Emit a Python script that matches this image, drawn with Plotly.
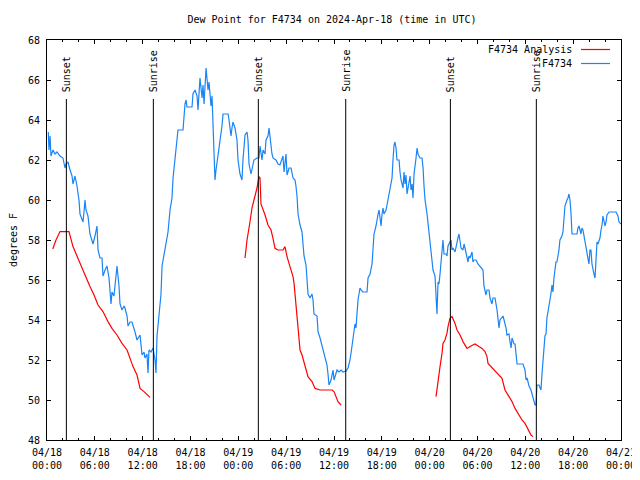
import plotly.graph_objects as go

TITLE = "Dew Point for F4734 on 2024-Apr-18 (time in UTC)"
Y_LABEL = "degrees F"
SERIES_NAMES = ["F4734 Analysis", "F4734"]

# hours since 2024-04-18 00:00 UTC
X_TICK_HOURS = [0, 6, 12, 18, 24, 30, 36, 42, 48, 54, 60, 66, 72]
X_TICK_LABELS = ["04/18<br>00:00", "04/18<br>06:00", "04/18<br>12:00", "04/18<br>18:00",
                 "04/19<br>00:00", "04/19<br>06:00", "04/19<br>12:00", "04/19<br>18:00",
                 "04/20<br>00:00", "04/20<br>06:00", "04/20<br>12:00", "04/20<br>18:00",
                 "04/21<br>00:00"]
Y_TICKS = [48, 50, 52, 54, 56, 58, 60, 62, 64, 66, 68]

SUN_EVENTS = ["Sunset", "Sunrise", "Sunset", "Sunrise", "Sunset", "Sunrise"]
SUN_HOURS = [2.43, 13.34, 26.51, 37.47, 50.6, 61.38]

# F4734 observations (hour, dew point F)
OBS = [
    (0.16, 63.4), (0.25, 62.5), (0.38, 63.2), (0.5, 62.2), (0.75, 62.5), (1.0, 62.3), (1.25, 62.4),
    (1.63, 62.2), (2.0, 62.1), (2.26, 61.6), (2.38, 61.8), (2.63, 61.9), (2.89, 61.5), (3.14, 61.2),
    (3.26, 60.8), (3.51, 61.2), (3.76, 60.7), (4.01, 60.0), (4.14, 59.3), (4.52, 58.9), (4.64, 59.4),
    (4.77, 60.0), (4.89, 59.5), (5.14, 59.2), (5.39, 58.3), (5.64, 58.0), (5.77, 57.8), (6.02, 58.2),
    (6.27, 58.7), (6.4, 57.5), (6.65, 57.1), (6.9, 57.1), (7.02, 56.2), (7.28, 56.5), (7.53, 56.7),
    (7.65, 56.4), (7.78, 56.1), (8.03, 54.8), (8.15, 55.4), (8.4, 55.2), (8.66, 56.4), (8.78, 56.7),
    (9.03, 55.7), (9.16, 54.8), (9.41, 54.5), (9.66, 54.7), (9.78, 54.6), (10.04, 54.2), (10.16, 53.7),
    (10.41, 53.9), (10.66, 53.9), (10.91, 53.6), (11.04, 53.4), (11.29, 53.0), (11.67, 53.25),
    (11.92, 52.25), (12.17, 52.4), (12.29, 52.1), (12.54, 52.3), (12.67, 51.35), (12.79, 52.5),
    (13.05, 52.4), (13.3, 52.6), (13.55, 52.0), (13.67, 51.35), (13.8, 53.2), (14.05, 54.3),
    (14.3, 55.3), (14.43, 56.7), (14.8, 57.5), (15.05, 58.2), (15.18, 58.4), (15.43, 59.5),
    (15.68, 60.1), (15.81, 61.1), (16.06, 62.1), (16.31, 62.8), (16.43, 63.5), (16.68, 63.5),
    (17.06, 63.5), (17.31, 64.8), (17.44, 65.0), (17.56, 64.65), (18.19, 64.65), (18.31, 65.3),
    (18.57, 65.5), (18.82, 65.2), (18.94, 64.5), (19.19, 66.1), (19.45, 65.1), (19.57, 65.75),
    (19.7, 64.8), (19.95, 66.6), (20.07, 66.0), (20.2, 65.5), (20.32, 65.9), (20.57, 64.7),
    (20.7, 65.2), (20.82, 63.5), (20.95, 61.5), (21.07, 61.0), (21.2, 61.5), (21.45, 62.2),
    (21.7, 63.0), (21.95, 63.7), (22.08, 64.3), (22.71, 64.3), (22.83, 64.0), (23.08, 63.2),
    (23.2, 63.6), (23.33, 63.9), (23.58, 63.6), (23.83, 63.0), (23.96, 62.0), (24.21, 61.3),
    (24.46, 61.0), (24.58, 62.0), (24.84, 63.25), (25.09, 63.4), (25.21, 63.0), (25.34, 61.8),
    (25.59, 61.3), (25.71, 61.6), (25.96, 62.0), (26.34, 62.1), (26.59, 62.1), (26.72, 62.7),
    (26.97, 62.0), (27.1, 62.5), (27.35, 62.3), (27.47, 63.0), (27.72, 63.2), (27.85, 63.6),
    (27.97, 63.1), (28.22, 62.3), (28.35, 62.1), (28.72, 62.0), (28.97, 61.8), (29.22, 61.75),
    (29.6, 62.2), (29.73, 61.4), (29.98, 62.3), (30.11, 61.25), (30.36, 61.6), (30.61, 61.6),
    (30.86, 61.1), (31.11, 61.0), (31.23, 60.7), (31.36, 60.2), (31.49, 59.3), (31.61, 58.9),
    (31.74, 58.75), (31.99, 58.4), (32.11, 57.7), (32.24, 57.2), (32.49, 56.75), (32.61, 56.2),
    (32.74, 55.3), (32.99, 55.1), (33.24, 55.3), (33.37, 55.0), (33.49, 54.3), (33.87, 54.2),
    (34.0, 53.4), (34.25, 53.1), (34.5, 52.7), (34.62, 52.5), (34.87, 52.25), (35.12, 51.75),
    (35.25, 51.3), (35.37, 50.75), (35.63, 51.0), (35.88, 51.5), (36.0, 51.0), (36.25, 51.4),
    (36.38, 51.5), (36.63, 51.4), (36.88, 51.5), (37.13, 51.4), (37.51, 51.45), (37.76, 51.6),
    (38.01, 52.0), (38.26, 52.7), (38.38, 53.1), (38.63, 53.8), (38.76, 53.6), (38.89, 54.2),
    (39.01, 55.0), (39.26, 55.6), (39.39, 55.5), (39.64, 55.4), (40.02, 55.4), (40.14, 55.4),
    (40.27, 56.1), (40.52, 56.3), (40.77, 56.8), (40.9, 57.75), (41.02, 58.3), (41.27, 58.7),
    (41.4, 59.1), (41.53, 59.3), (41.65, 59.5), (41.9, 58.7), (42.03, 59.3), (42.15, 59.6),
    (42.27, 59.3), (42.53, 59.5), (42.65, 59.75), (42.78, 60.0), (43.03, 60.5), (43.28, 61.1),
    (43.4, 62.0), (43.53, 62.75), (43.65, 62.9), (43.78, 62.6), (43.9, 62.0), (44.16, 62.0),
    (44.28, 61.4), (44.41, 61.0), (44.66, 60.6), (44.78, 61.4), (44.91, 60.8), (45.03, 61.25),
    (45.16, 60.3), (45.29, 60.7), (45.54, 61.2), (45.66, 60.5), (45.79, 60.8), (45.91, 60.1),
    (46.04, 61.3), (46.29, 62.1), (46.42, 62.6), (46.54, 62.3), (46.79, 62.1), (47.04, 62.1),
    (47.17, 61.6), (47.29, 60.7), (47.42, 60.0), (47.67, 59.3), (47.8, 58.8), (47.92, 58.2),
    (48.04, 57.8), (48.17, 57.4), (48.3, 57.0), (48.42, 56.5), (48.67, 56.2), (48.8, 55.3),
    (48.92, 54.3), (49.05, 55.9), (49.17, 55.8), (49.3, 56.3), (49.42, 57.0), (49.55, 57.5),
    (49.67, 58.0), (49.8, 57.3), (50.05, 57.3), (50.17, 57.2), (50.3, 57.7), (50.42, 57.8),
    (50.55, 57.9), (50.68, 58.0), (50.8, 57.5), (50.93, 57.6), (51.18, 57.4), (51.3, 57.7),
    (51.55, 58.1), (51.68, 58.3), (51.81, 57.8), (51.93, 57.6), (52.18, 57.5), (52.31, 57.8),
    (52.43, 57.6), (52.68, 57.0), (52.81, 56.9), (52.93, 57.2), (53.06, 57.1), (53.31, 57.4),
    (53.43, 56.9), (53.56, 57.0), (53.81, 57.0), (54.06, 56.8), (54.31, 56.7), (54.69, 56.5),
    (54.81, 55.7), (55.06, 55.25), (55.19, 55.5), (55.44, 55.5), (55.57, 55.1), (55.82, 54.8),
    (55.94, 55.1), (56.2, 55.1), (56.45, 54.5), (56.57, 54.0), (56.7, 53.6), (56.82, 54.0),
    (57.2, 54.2), (57.33, 54.0), (57.58, 53.6), (57.7, 53.25), (57.95, 53.3), (58.08, 52.9),
    (58.21, 52.6), (58.33, 53.1), (58.58, 52.8), (58.71, 52.8), (58.96, 51.8), (59.71, 51.8),
    (59.96, 51.5), (60.09, 51.0), (60.21, 51.1), (60.34, 50.9), (60.46, 50.7), (60.71, 50.5),
    (60.96, 50.1), (61.09, 50.0), (61.21, 49.75), (61.34, 49.75), (61.46, 50.75), (61.71, 50.75),
    (61.96, 50.5), (62.09, 51.3), (62.21, 51.8), (62.34, 52.5), (62.46, 53.2), (62.59, 53.3),
    (62.71, 54.1), (62.96, 54.7), (63.09, 55.2), (63.21, 55.3), (63.34, 55.75), (63.46, 55.4),
    (63.59, 56.1), (63.71, 56.5), (63.84, 56.9), (63.96, 56.9), (64.22, 57.5), (64.34, 58.0),
    (64.59, 58.2), (64.72, 58.4), (64.84, 58.9), (64.97, 59.7), (65.22, 60.0), (65.35, 60.1),
    (65.47, 60.3), (65.6, 60.0), (65.72, 59.4), (65.85, 58.3), (66.22, 58.3), (66.48, 58.3),
    (66.6, 58.6), (66.73, 58.7), (66.98, 58.3), (67.1, 58.6), (67.23, 58.5), (67.48, 57.9),
    (67.73, 57.4), (67.86, 57.0), (67.98, 56.8), (68.11, 57.5), (68.23, 57.5), (68.36, 56.8),
    (68.49, 56.4), (68.61, 56.3), (68.74, 56.1), (68.99, 57.9), (69.11, 57.8), (69.36, 58.1),
    (69.49, 58.5), (69.62, 58.75), (69.74, 59.2), (69.99, 58.7), (70.12, 58.9), (70.24, 59.25),
    (70.5, 59.4), (70.75, 59.4), (71.38, 59.4), (71.62, 59.2), (71.75, 58.9), (72.0, 58.8),
]

# F4734 Analysis segments (hour, dew point F)
ANALYSIS_1 = [
    (0.72, 57.55), (1.13, 58.0), (1.63, 58.42), (2.76, 58.42), (3.26, 57.67), (3.76, 57.17),
    (4.39, 56.58), (4.77, 56.25), (5.39, 55.67), (5.9, 55.25), (6.4, 54.75), (7.02, 54.42),
    (7.65, 53.92), (8.15, 53.58), (8.78, 53.25), (9.41, 52.83), (10.04, 52.5), (10.41, 52.08),
    (10.79, 51.67), (11.29, 51.25), (11.67, 50.58), (12.17, 50.42), (12.54, 50.25), (12.92, 50.13),
]
ANALYSIS_2 = [
    (24.84, 57.1), (25.09, 58.0), (25.46, 58.9), (25.71, 59.6), (25.96, 60.0), (26.34, 60.6),
    (26.59, 61.17), (26.72, 61.1), (26.84, 59.8), (26.97, 59.67), (27.35, 59.25), (27.72, 58.75),
    (28.1, 58.5), (28.35, 58.08), (28.6, 57.58), (28.97, 57.5), (29.6, 57.5), (29.85, 57.67),
    (30.11, 57.17), (30.48, 56.67), (30.86, 56.17), (30.99, 55.83), (31.23, 54.75), (31.49, 53.67),
    (31.74, 52.5), (31.99, 52.25), (32.24, 51.92), (32.49, 51.5), (32.74, 51.17), (33.24, 50.92),
    (33.62, 50.58), (34.25, 50.5), (35.75, 50.5), (36.0, 50.42), (36.25, 50.17), (36.5, 49.92),
    (36.88, 49.75),
]
ANALYSIS_3 = [
    (48.8, 50.17), (48.92, 50.6), (49.05, 51.08), (49.3, 51.67), (49.55, 52.33), (49.67, 52.83),
    (49.92, 53.0), (50.17, 53.33), (50.3, 53.67), (50.55, 54.08), (50.8, 54.17), (51.18, 53.83),
    (51.43, 53.5), (51.81, 53.25), (52.18, 52.92), (52.68, 52.58), (53.18, 52.7), (53.68, 52.8),
    (54.18, 52.67), (54.56, 52.58), (54.94, 52.42), (55.19, 52.17), (55.32, 51.83), (55.69, 51.67),
    (56.2, 51.5), (56.57, 51.33), (57.07, 51.08), (57.45, 50.5), (57.83, 50.25), (58.33, 49.92),
    (58.71, 49.58), (59.08, 49.33), (59.58, 49.0), (59.96, 48.83), (60.34, 48.5), (60.71, 48.25),
    (60.96, 48.17),
]

RED = "#ff0000"
BLUE = "#1a84f5"
FONT = "DejaVu Sans Mono"

# page body has an 8px margin: figure is 632x472 placed at (8, 8)
FIG_W, FIG_H = 632, 472
PLOT_L, PLOT_T, PLOT_W, PLOT_H = 39, 32, 574, 400

fig = go.Figure()

ax, av = [], []
for seg in (ANALYSIS_1, ANALYSIS_2, ANALYSIS_3):
    for h, v in seg:
        ax.append(h)
        av.append(v)
    ax.append(None)
    av.append(None)
fig.add_trace(go.Scatter(x=ax, y=av, mode="lines", name=SERIES_NAMES[0],
                         line=dict(color=RED, width=1.2), connectgaps=False))
fig.add_trace(go.Scatter(x=[p[0] for p in OBS], y=[p[1] for p in OBS], mode="lines",
                         name=SERIES_NAMES[1], line=dict(color=BLUE, width=1.2)))

# sunrise / sunset markers
for name, h in zip(SUN_EVENTS, SUN_HOURS):
    fig.add_shape(type="line", xref="x", yref="y", x0=h, x1=h, y0=48, y1=65.05,
                  line=dict(color="black", width=1))
    fig.add_annotation(x=h, y=65.3, xref="x", yref="y", text=name, textangle=-90,
                       showarrow=False, xanchor="center", yanchor="bottom",
                       font=dict(family=FONT, size=10, color="black"))

# gnuplot-style legend (text right, sample line on right), positions relative to plot area
for i, (name, col) in enumerate(zip(SERIES_NAMES, [RED, BLUE])):
    ypx = 9.5 + i * 14
    yp = (PLOT_H - ypx) / PLOT_H
    fig.add_annotation(x=527 / PLOT_W, y=yp, xref="paper", yref="paper", text=name,
                       showarrow=False, xanchor="right", yanchor="middle",
                       font=dict(family=FONT, size=10, color="black"))
    fig.add_shape(type="line", xref="paper", yref="paper",
                  x0=534 / PLOT_W, x1=563 / PLOT_W, y0=yp, y1=yp,
                  line=dict(color=col, width=1.2))

fig.update_layout(
    width=FIG_W, height=FIG_H,
    margin=dict(l=PLOT_L, r=FIG_W - PLOT_L - PLOT_W, t=PLOT_T, b=FIG_H - PLOT_T - PLOT_H,
                autoexpand=False),
    paper_bgcolor="white", plot_bgcolor="white",
    showlegend=False,
    font=dict(family=FONT, size=10, color="black"),
    title=dict(text=TITLE, x=324 / FIG_W, xanchor="center", y=1 - 11 / FIG_H, yanchor="middle",
               font=dict(family=FONT, size=10, color="black")),
)
fig.update_xaxes(range=[0, 72], tickmode="array", tickvals=X_TICK_HOURS, ticktext=X_TICK_LABELS,
                 ticks="inside", ticklen=4, tickcolor="black", showgrid=False, zeroline=False,
                 showline=True, linecolor="black", linewidth=1, mirror="allticks",
                 automargin=False, ticklabelstandoff=3,
                 minor=dict(dtick=2, tick0=0, ticks="inside", ticklen=2, tickcolor="black"),
                 tickfont=dict(family=FONT, size=10))
fig.update_yaxes(range=[48, 68], tickmode="array", tickvals=Y_TICKS,
                 ticks="inside", ticklen=4, tickcolor="black", showgrid=False, zeroline=False,
                 showline=True, linecolor="black", linewidth=1, mirror="allticks",
                 automargin=False, ticklabelstandoff=4,
                 tickfont=dict(family=FONT, size=10),
                 title=dict(text=Y_LABEL, standoff=8, font=dict(family=FONT, size=10)))

fig.write_html(
    "out.html",
    post_script="document.documentElement.style.overflow='hidden';"
                "document.body.style.overflow='hidden';",
)
